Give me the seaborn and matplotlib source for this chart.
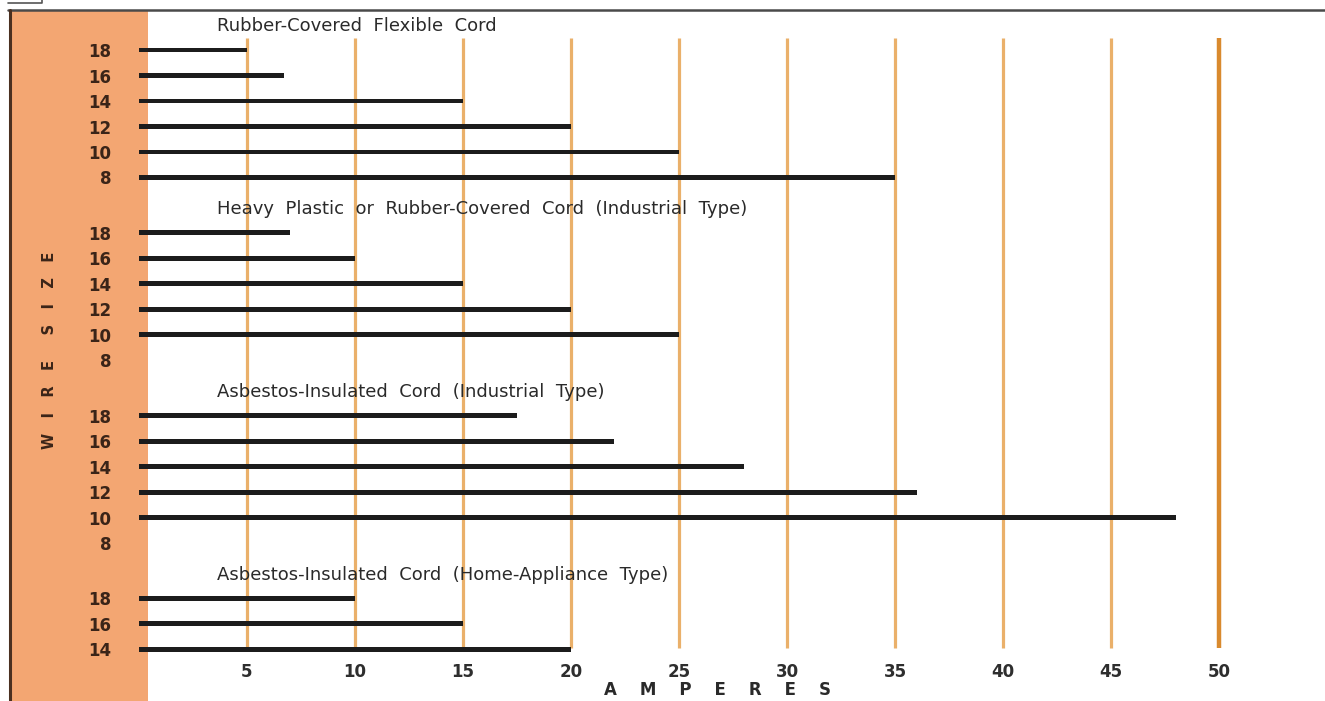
import pandas as pd
import seaborn as sns
import matplotlib.pyplot as plt
from matplotlib.patches import Rectangle
from matplotlib.lines import Line2D

# data
groups = ['Rubber-Covered  Flexible  Cord',
          'Heavy  Plastic  or  Rubber-Covered  Cord  (Industrial  Type)',
          'Asbestos-Insulated  Cord  (Industrial  Type)',
          'Asbestos-Insulated  Cord  (Home-Appliance  Type)']
wire_sizes = [[18, 16, 14, 12, 10, 8],
              [18, 16, 14, 12, 10, 8],
              [18, 16, 14, 12, 10, 8],
              [18, 16, 14]]
amperes = [[5, 6.7, 15, 20, 25, 35],
           [7, 10, 15, 20, 25, None],
           [17.5, 22, 28, 36, 48, None],
           [10, 15, 20]]
amp_ticks = [5, 10, 15, 20, 25, 30, 35, 40, 45, 50]

# row positions
group_step = 7.17
rows = []
for g, (sizes, amps) in enumerate(zip(wire_sizes, amperes)):
    for i, (s, a) in enumerate(zip(sizes, amps)):
        rows.append({'group': g, 'size': s, 'amps': a, 'pos': g * group_step + i})
df = pd.DataFrame(rows)
bars = df.dropna(subset=['amps'])

sns.set_theme(style='white')
plt.rcParams['font.family'] = ['DejaVu Sans']

fig = plt.figure(figsize=(13.25, 7.01), dpi=100)
W, H = 1325, 701

# orange band on the left, behind the axes
fig.patches.append(Rectangle((10 / W, 0), 138 / W, 1 - 10 / H, transform=fig.transFigure,
                             facecolor='#f3a672', edgecolor='none', zorder=-5))

ax = fig.add_axes([139 / W, 1 - 655 / H, 1 - 139 / W, (655 - 10) / H])
ax.set_facecolor('none')
ax.set_zorder(2)

# vertical amp lines
for t in amp_ticks:
    ax.vlines(t, -0.47, 23.45, color='#d98a2e' if t == 50 else '#eab06a',
              lw=3.2 if t == 50 else 2.3, zorder=1)

sns.barplot(data=bars, x='amps', y='pos', orient='h', native_scale=True,
            color='#1c1c1c', saturation=1, width=0.19, linewidth=0, ax=ax, zorder=3)

for g, name in enumerate(groups):
    ax.text(3.6, g * group_step - 0.93, name, fontsize=13, color='#2a2a2a',
            va='center', ha='left')

ax.set_xlim(0, (W - 139) / 21.6)
ax.set_ylim(23.73, -1.57)
ax.set_xticks(amp_ticks)
ax.set_xticklabels([str(t) for t in amp_ticks], fontsize=12, fontweight='bold', color='#2e2e2e')
ax.set_yticks(df['pos'])
ax.set_yticklabels([str(s) for s in df['size']], fontsize=12, fontweight='bold', color='#3a2418')
ax.tick_params(axis='x', length=0, pad=6)
ax.tick_params(axis='y', length=0, pad=20)
ax.set_xlabel('')
ax.set_ylabel('')
sns.despine(ax=ax, left=True, bottom=True)

fig.text(718 / W, 1 - 690 / H, 'A    M    P    E    R    E    S', fontsize=12, fontweight='bold',
         color='#2a2a2a', ha='center', va='center')
fig.text(50 / W, 1 - 350 / H, 'W   I   R   E     S   I   Z   E', fontsize=10.5, fontweight='bold',
         color='#3a2418', rotation=90, ha='center', va='center')

# frame lines
fig.add_artist(Line2D([8 / W, 1], [1 - 10 / H, 1 - 10 / H], transform=fig.transFigure,
                      color='#4a4a4a', lw=1.8))
fig.add_artist(Line2D([10 / W, 10 / W], [0, 1 - 10 / H], transform=fig.transFigure,
                      color='#4a3020', lw=2.2))
fig.add_artist(Line2D([8 / W, 42 / W, 42 / W], [1 - 3 / H, 1 - 3 / H, 1], transform=fig.transFigure,
                      color='#555555', lw=1.2))

fig.savefig('out.png', dpi=100)
